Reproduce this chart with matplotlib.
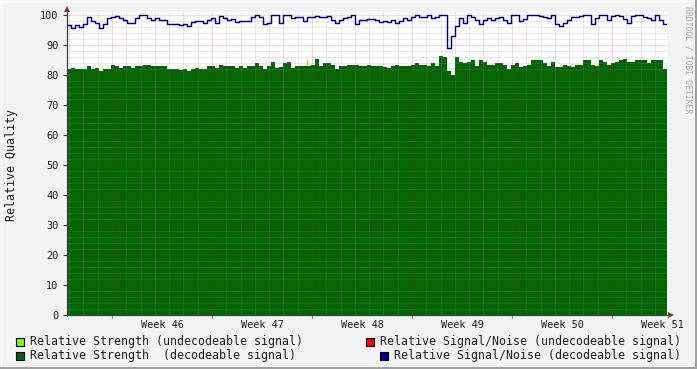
import numpy as np
import matplotlib
matplotlib.use("Agg")
import matplotlib.pyplot as plt
from matplotlib.lines import Line2D
from matplotlib.patches import Rectangle, Polygon

# ---------------- data ----------------
# Relative Strength (decodeable signal), one value per ~6.7 h sample, 6 weeks
strength = [
    82, 82.2, 82.1, 82, 82, 83, 82, 82.3, 81.4, 82, 82, 83.3, 83, 82.5, 83, 83, 82.5, 83, 83, 83.5, 83.5, 83, 83, 83, 83,
    82, 82, 82, 81.7, 82, 81.3, 82, 82.5, 82, 82, 83, 83, 82.5, 83.5, 83, 83, 83, 82.5, 83, 82.2, 83, 83, 84, 83, 82,
    83, 84.5, 82.5, 82.7, 84, 84.3, 82.5, 83, 83, 83, 83, 83.5, 85.5, 83, 84, 84, 83.3, 82, 83, 83, 83.3, 83.3, 83.3, 83, 83,
    83.2, 83, 83, 83, 82.7, 82.2, 83, 83.5, 83, 83, 83, 83.5, 84, 83.5, 83.5, 83, 84, 83, 86.5, 86, 81.5, 80, 86, 84.5, 84,
    84.5, 85, 83, 85, 84.3, 83.3, 83.5, 84, 84, 83.3, 82, 83.5, 84, 82.7, 83, 83.3, 85, 85, 85, 84, 83, 84.5, 82.7, 82.7, 83.2,
    83, 82.8, 83.5, 83.5, 85, 85, 83.5, 83, 85, 84.5, 83.5, 84, 84.5, 85, 85.5, 84.5, 84.5, 85, 85, 85, 84, 85, 85, 85, 82,
]
# Relative Signal/Noise (decodeable signal)
snr = [
    96.7, 95.8, 96.6, 96, 97, 99.5, 98, 97.4, 95.8, 97, 99, 99.2, 99.7, 99, 98.3, 97.5, 97.5, 99, 100, 100, 99, 98.3, 99, 98.3, 98.3,
    97, 97, 97, 96.6, 97, 96.5, 97.8, 98, 98, 97.2, 98.5, 99, 97.5, 99.8, 99, 98.5, 98.8, 97.8, 98, 98, 98, 99.5, 100, 99.5, 97,
    97.5, 100, 100, 97.5, 100, 100, 99, 99.3, 99.5, 98, 99.5, 99.5, 99.7, 99.5, 99.5, 99.8, 98.5, 97.5, 98.5, 99, 99.5, 100, 97, 98.5, 98.5,
    98.8, 98.6, 98.2, 97.8, 98, 97.8, 98.2, 97.5, 98, 99, 98.5, 99.5, 100, 99.5, 99.5, 100, 99, 99.5, 100, 100, 89, 93, 96.5, 99, 97.5,
    100, 99.5, 98.5, 97, 98.5, 99, 98.5, 99, 99.5, 98.5, 97.5, 100, 100, 98, 98.8, 100, 100, 100, 99.8, 99.5, 99, 100, 97, 96.5, 97.5,
    98.5, 99.5, 99.3, 99.7, 100, 100, 97, 99, 100, 100, 98.3, 99.8, 100, 99.7, 98.8, 97.5, 99.8, 100, 100, 99.5, 99, 98.5, 100, 98.5, 97,
]
# Relative Strength (undecodeable signal): one short spike
undecodeable_day = [16.8]
undecodeable_strength = [85]

week_labels = ["Week 46", "Week 47", "Week 48", "Week 49", "Week 50", "Week 51"]
y_ticks = list(range(0, 101, 10))

legend_items = [
    ("Relative Strength (undecodeable signal)", "#80FF00"),
    ("Relative Strength  (decodeable signal)", "#006600"),
    ("Relative Signal/Noise (undecodeable signal)", "#FF0000"),
    ("Relative Signal/Noise (decodeable signal)", "#000099"),
]

# ---------------- layout ----------------
W, H, DPI = 697, 369, 100
MONO = "DejaVu Sans Mono"
plt.rcParams["font.family"] = [MONO]

fig = plt.figure(figsize=(W / DPI, H / DPI), dpi=DPI, facecolor="#F3F3F3")

def fx(x):
    return x / W

def fy(y):
    return 1 - y / H

L, R, T, B = 67, 667, 12, 315
ax = fig.add_axes([fx(L), fy(B), (R - L) / W, (B - T) / H])
ax.set_facecolor("white")
DAYS = 42
ax.set_xlim(0, DAYS)
ax.set_ylim(0, 101)
for s in ax.spines.values():
    s.set_visible(False)

n = len(strength)
edges = np.linspace(0, DAYS, n + 1)

# undecodeable spike (drawn under the decodeable area)
ax.bar(undecodeable_day, undecodeable_strength, width=0.08, color="#80FF00",
       align="edge", lw=0, zorder=1)
ax.fill_between(edges, np.r_[strength, strength[-1]], 0, step="post",
                color="#006600", lw=0, zorder=2)

# grid (on top of the area, like rrdtool)
dot = (0, (1, 1))
grid_c = (0.55, 0.55, 0.55, 0.38)
mgrid_c = (1.0, 0.0, 0.0, 0.33)
for v in range(2, 101, 2):
    ax.axhline(v, color=mgrid_c if v % 10 == 0 else grid_c, lw=0.72, ls=dot, zorder=3)
day_off = 0.15
for k in range(DAYS):
    d = day_off + k
    ax.axvline(d, color=mgrid_c if k % 7 == 3 else grid_c, lw=0.72, ls=dot, zorder=3)

ax.step(edges, np.r_[snr, snr[-1]], where="post", color="#00008C", lw=1.05, zorder=4)

# ticks
ax.set_yticks(y_ticks)
ax.set_yticklabels([str(v) for v in y_ticks])
ax.tick_params(axis="y", length=2.6, width=0.8, color="#404040", pad=3.6,
               labelsize=7.4, labelcolor="#202020")
ax.set_xticks([day_off + 3 + 3.5 + 7 * k for k in range(len(week_labels))])
ax.set_xticklabels(week_labels)
ax.tick_params(axis="x", length=0, pad=3.6, labelsize=7.4, labelcolor="#202020")
for lab in ax.get_xticklabels() + ax.get_yticklabels():
    lab.set_fontfamily(MONO)

# red major ticks under x axis
for k in range(6):
    d = day_off + 3 + 7 * k
    ax.plot([d, d], [0, -0.9], color="#E06060", lw=0.8, clip_on=False, zorder=5)

# axes lines with arrows
fig.add_artist(Line2D([fx(L), fx(L)], [fy(B + 1), fy(9)], color="#404040", lw=0.9))
fig.add_artist(Line2D([fx(L - 3), fx(670)], [fy(B), fy(B)], color="#404040", lw=0.9))
fig.add_artist(Polygon([(fx(64), fy(12)), (fx(70), fy(12)), (fx(67), fy(6))],
                       closed=True, color="#A02828", lw=0))
fig.add_artist(Polygon([(fx(668), fy(312)), (fx(668), fy(318)), (fx(674), fy(315))],
                       closed=True, color="#A02828", lw=0))

# y label and credits
fig.text(fx(12), fy(165), "Relative Quality", rotation=90, ha="center", va="center",
         fontsize=8.4, family=MONO, color="#202020")
fig.text(fx(688), fy(60), "RRDTOOL / TOBI OETIKER", rotation=270, ha="center", va="center",
         fontsize=5.9, family=MONO, color="#A8A8A8")

# legend
def legend_entry(x_box, y_c, text, color, text_x, ha="left"):
    fig.add_artist(Rectangle((fx(x_box), fy(y_c + 4)), 8 / W, 8 / H,
                             facecolor=color, edgecolor="black", lw=0.8))
    fig.text(fx(text_x), fy(y_c), text, ha=ha, va="center", fontsize=8.4,
             family=MONO, color="#202020")

legend_entry(15.5, 341.5, legend_items[0][0], legend_items[0][1], 30)
legend_entry(15.5, 355.5, legend_items[1][0], legend_items[1][1], 30)
legend_entry(366, 341.5, legend_items[2][0], legend_items[2][1], 681, ha="right")
legend_entry(379.5, 355.5, legend_items[3][0], legend_items[3][1], 681, ha="right")

# 3D frame
fig.add_artist(Line2D([0, 1], [fy(0.5), fy(0.5)], color="#FFFFFF", lw=1.0))
fig.add_artist(Line2D([fx(0.5), fx(0.5)], [0, 1], color="#FFFFFF", lw=1.0))
fig.add_artist(Line2D([0, 1], [fy(367.5), fy(367.5)], color="#A0A0A0", lw=1.5))
fig.add_artist(Line2D([fx(695.5), fx(695.5)], [0, 1], color="#A0A0A0", lw=1.5))

fig.savefig("out.png", dpi=DPI, facecolor=fig.get_facecolor())
